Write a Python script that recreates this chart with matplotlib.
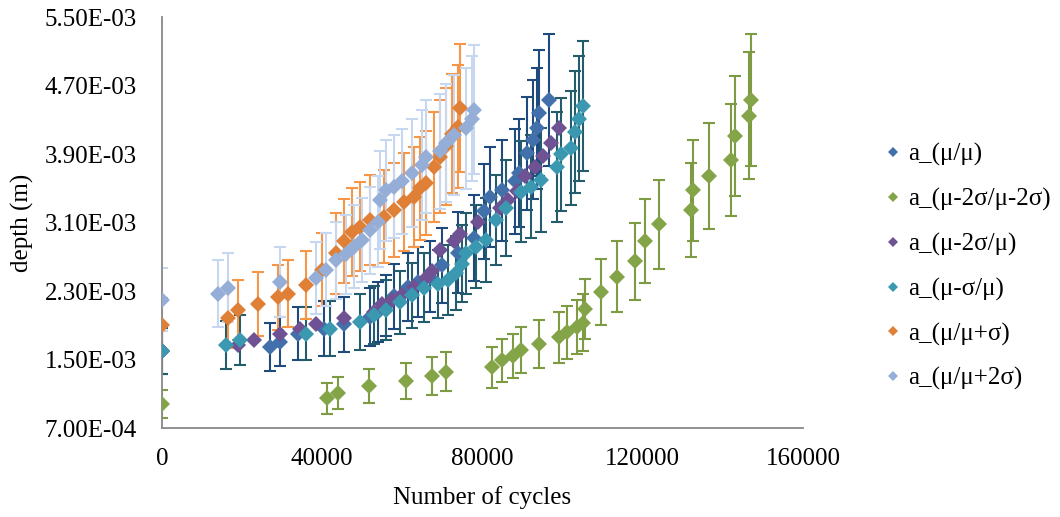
import matplotlib
matplotlib.use("Agg")
import matplotlib.pyplot as plt
from matplotlib.ticker import FuncFormatter

plt.rcParams['font.family'] = ['Liberation Serif', 'DejaVu Serif']

# a_(mu/mu)
blue_x = [0, 27000, 29500, 34000, 40500, 45500, 52000, 54000, 56000, 58000, 61500, 64000, 67000,
          70000, 74000, 78000, 80500, 82000, 85000, 88000, 89000, 91000, 92500, 93500, 94000, 96500]
blue_y = [1.60, 1.65, 1.71, 1.80, 1.86, 1.91, 2.00, 2.06, 2.13, 2.24, 2.35, 2.41, 2.47,
          2.60, 2.75, 2.92, 3.23, 3.40, 3.48, 3.58, 3.68, 3.91, 4.07, 4.20, 4.38, 4.53]
blue_err = [2.7, 2.8, 2.9, 3.1, 3.2, 3.2, 3.4, 3.5, 3.6, 3.8, 4.0, 4.1, 4.2,
            4.4, 4.7, 5.0, 5.5, 5.8, 5.9, 6.1, 6.3, 6.6, 6.9, 7.1, 7.4, 7.7]

# a_(mu-2s/mu-2s)
green_x = [0, 41250, 44000, 51750, 61000, 67500, 71000, 82500, 85000, 87500, 89500, 94000, 99000,
           101000, 103500, 105000, 105500, 109500, 113500, 118000, 120500, 124000, 132000, 132500,
           136500, 142000, 143000, 146500, 147000]
green_y = [0.98, 1.05, 1.11, 1.19, 1.25, 1.31, 1.36, 1.41, 1.49, 1.54, 1.61, 1.68, 1.76,
           1.82, 1.88, 1.93, 2.09, 2.29, 2.47, 2.65, 2.88, 3.08, 3.25, 3.48,
           3.64, 3.83, 4.11, 4.35, 4.53]
green_err = [1.6, 1.8, 1.9, 2.0, 2.1, 2.2, 2.3, 2.4, 2.5, 2.6, 2.7, 2.8, 3.0,
             3.1, 3.2, 3.3, 3.5, 3.9, 4.2, 4.5, 4.9, 5.2, 5.5, 5.9,
             6.2, 6.5, 7.0, 7.4, 7.7]

# a_(mu-2s/mu)  (no error bars)
purple_x = [0, 19000, 23000, 29500, 34500, 38500, 45500, 53000, 55000, 57500, 60000, 63000, 66000,
            67500, 69500, 73000, 74500, 79000, 84500, 86500, 88500, 90500, 93000, 95000, 97000, 99000]
purple_y = [1.60, 1.67, 1.73, 1.80, 1.86, 1.92, 1.98, 2.06, 2.15, 2.19, 2.25, 2.35, 2.45,
            2.54, 2.78, 2.88, 2.97, 3.11, 3.27, 3.36, 3.47, 3.64, 3.75, 3.88, 4.03, 4.20]

# a_(mu-s/mu)
teal_x = [0, 16000, 19500, 36000, 42000, 49500, 53000, 56000, 59500, 62500, 65500, 69000, 71500,
          73500, 75000, 76000, 78500, 81000, 83500, 86000, 89500, 92000, 94500, 98500, 99500,
          102000, 103000, 104000, 105000]
teal_y = [1.60, 1.67, 1.73, 1.80, 1.86, 1.94, 2.02, 2.08, 2.17, 2.25, 2.34, 2.38, 2.43,
          2.51, 2.62, 2.74, 2.82, 2.90, 3.13, 3.27, 3.46, 3.52, 3.60, 3.75, 3.90,
          3.97, 4.16, 4.31, 4.46]
teal_err = [2.7, 2.8, 2.9, 3.1, 3.2, 3.3, 3.4, 3.5, 3.7, 3.8, 4.0, 4.0, 4.1,
            4.3, 4.5, 4.7, 4.8, 4.9, 5.3, 5.6, 5.9, 6.0, 6.1, 6.4, 6.6,
            6.7, 7.1, 7.3, 7.6]

# a_(mu/mu+s)
orange_x = [0, 16500, 19000, 24000, 29000, 31500, 36000, 40000, 43500, 45500, 47500, 49500, 52000,
            55500, 58000, 60500, 63000, 64500, 66000, 68000, 69500, 71000, 72500, 74000, 74500]
orange_y = [1.90, 1.98, 2.08, 2.15, 2.23, 2.27, 2.37, 2.55, 2.74, 2.88, 2.99, 3.05, 3.13,
            3.17, 3.25, 3.34, 3.40, 3.50, 3.56, 3.75, 3.87, 3.99, 4.14, 4.22, 4.44]
orange_err = [3.2, 3.4, 3.5, 3.7, 3.8, 3.9, 4.0, 4.3, 4.7, 4.9, 5.1, 5.2, 5.3,
              5.4, 5.5, 5.7, 5.8, 6.0, 6.1, 6.4, 6.6, 6.8, 7.0, 7.2, 7.5]

# a_(mu/mu+2s)
lblue_x = [0, 14000, 16500, 29500, 38500, 41000, 43500, 46000, 48000, 50000, 52000, 54000, 54500,
           56000, 58000, 60000, 62500, 65000, 66000, 69500, 71000, 73000, 76000, 77500, 78000]
lblue_y = [2.20, 2.27, 2.34, 2.41, 2.45, 2.55, 2.66, 2.73, 2.82, 2.90, 3.01, 3.11, 3.36,
           3.48, 3.52, 3.58, 3.68, 3.77, 3.87, 3.93, 4.03, 4.12, 4.20, 4.31, 4.42]
lblue_err = [3.7, 3.9, 4.0, 4.1, 4.2, 4.3, 4.5, 4.6, 4.8, 4.9, 5.1, 5.3, 5.7,
             5.9, 6.0, 6.1, 6.3, 6.4, 6.6, 6.7, 6.9, 7.0, 7.1, 7.3, 7.5]

labels = ['a_(\u03bc/\u03bc)', 'a_(\u03bc-2\u03c3/\u03bc-2\u03c3)', 'a_(\u03bc-2\u03c3/\u03bc)',
          'a_(\u03bc-\u03c3/\u03bc)', 'a_(\u03bc/\u03bc+\u03c3)', 'a_(\u03bc/\u03bc+2\u03c3)']
y_ticks = [7.0e-4, 1.5e-3, 2.3e-3, 3.1e-3, 3.9e-3, 4.7e-3, 5.5e-3]
x_ticks = [0, 40000, 80000, 120000, 160000]

series = [
    (blue_x, blue_y, blue_err, '#4270AA', '#1F4A7E'),
    (green_x, green_y, green_err, '#84A448', '#7D9B43'),
    (purple_x, purple_y, None, '#6F5293', None),
    (teal_x, teal_y, teal_err, '#3A98B0', '#235C6B'),
    (orange_x, orange_y, orange_err, '#E07F36', '#F79646'),
    (lblue_x, lblue_y, lblue_err, '#94AED8', '#C6D7EF'),
]

fs = 18

fig = plt.figure(figsize=(10.6, 5.17), dpi=100)
ax = fig.add_axes([0.1528, 0.172, 0.6047, 0.795])

handles = []
for i, (xs, ys, err, mc, ec) in enumerate(series):
    yv = [v * 1e-3 for v in ys]
    if err is not None:
        ev = [e * 1e-4 for e in err]
        ax.errorbar(xs, yv, yerr=ev, fmt='none', ecolor=ec, elinewidth=1.5,
                    capsize=4.5, capthick=1.5, zorder=2 + i * 0.1)
    h, = ax.plot(xs, yv, linestyle='none', marker='D', ms=8, color=mc,
                 markeredgewidth=0, zorder=3 + i * 0.1, label=labels[i])
    handles.append(h)

ax.set_xlim(0, 160000)
ax.set_ylim(7.0e-4, 5.5e-3)
ax.set_xticks(x_ticks)
ax.set_yticks(y_ticks)
ax.yaxis.set_major_formatter(FuncFormatter(lambda v, p: '{:.2E}'.format(v)))
ax.xaxis.set_major_formatter(FuncFormatter(lambda v, p: '{:d}'.format(int(round(v)))))
ax.tick_params(length=0, labelsize=fs, colors='black')
ax.tick_params(axis='y', pad=18)
ax.tick_params(axis='x', pad=14)
for s in ['top', 'right']:
    ax.spines[s].set_visible(False)
for s in ['left', 'bottom']:
    ax.spines[s].set_color('#888888')
    ax.spines[s].set_linewidth(1.3)

ax.set_xlabel('Number of cycles', fontsize=fs, labelpad=12)
ax.set_ylabel('depth (m)', fontsize=fs, labelpad=8)

fig.legend(handles=handles, loc='center left', bbox_to_anchor=(0.814, 0.484),
           frameon=False, fontsize=fs, handlelength=0.6, handletextpad=0.3,
           labelspacing=0.87, markerscale=0.6)

fig.savefig('out.png', dpi=100)
